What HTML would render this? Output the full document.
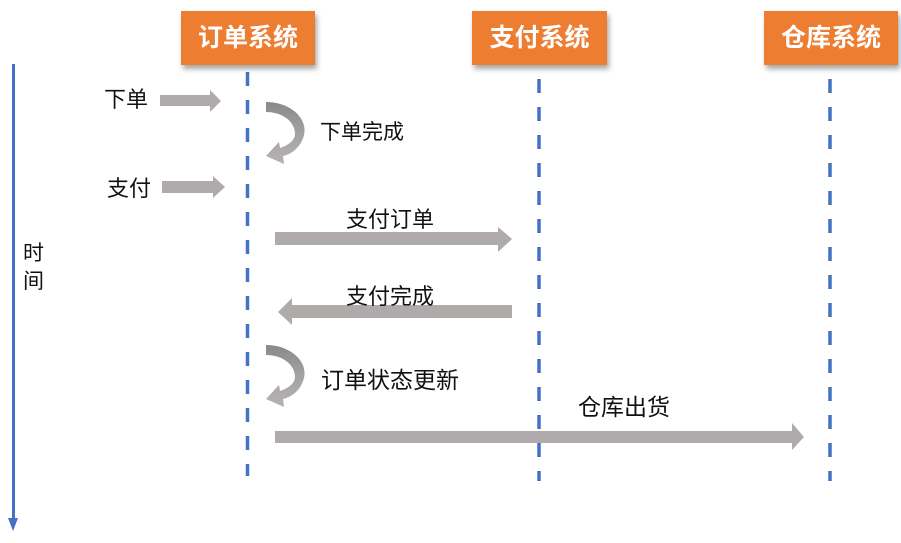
<!DOCTYPE html>
<html><head><meta charset="utf-8">
<style>
html,body{margin:0;padding:0;background:#fff;}
#c{position:relative;width:901px;height:543px;overflow:hidden;font-family:"Liberation Sans","Noto Sans CJK SC",sans-serif;color:#111;}
.box{position:absolute;top:11px;height:54px;background:#ED7D31;box-shadow:2px 4px 5px rgba(0,0,0,0.35);color:#fff;font-weight:bold;font-size:25px;line-height:54px;text-align:center;letter-spacing:0px;}
.t{position:absolute;white-space:nowrap;line-height:1;}
svg{position:absolute;left:0;top:0;}
</style></head><body>
<div id="c">
<svg width="901" height="543" viewBox="0 0 901 543">
  <defs>
    <linearGradient id="g" x1="0" y1="0" x2="0" y2="1">
      <stop offset="0" stop-color="#8a8888"/>
      <stop offset="0.5" stop-color="#a4a2a1"/>
      <stop offset="1" stop-color="#b6b3b2"/>
    </linearGradient>
  </defs>
  <!-- time axis -->
  <rect x="12" y="64" width="3" height="456" fill="#4472C4"/>
  <polygon points="8,518 18,518 13,531" fill="#4472C4"/>
  <!-- lifelines -->
  <line x1="247.5" y1="72" x2="247.5" y2="476" stroke="#4472C4" stroke-width="3.5" stroke-dasharray="14 14"/>
  <line x1="539" y1="79" x2="539" y2="481" stroke="#4472C4" stroke-width="3.5" stroke-dasharray="14 14"/>
  <line x1="830" y1="79" x2="830" y2="481" stroke="#4472C4" stroke-width="3.5" stroke-dasharray="14 14"/>
  <!-- straight arrows -->
  <g fill="#aeabaa">
    <polygon points="160,95 210,95 210,90 221,101 210,112 210,106 160,106"/>
    <polygon points="162,181 213,181 213,176 225,187 213,198 213,193 162,193"/>
    <polygon points="275,232 498,232 498,227 512,239 498,252 498,245 275,245"/>
    <polygon points="512,305 292,305 292,298 278,312 292,325 292,318 512,318"/>
    <polygon points="275,431 792,431 792,423 804,437 792,450 792,443 275,443"/>
  </g>
  <!-- curved arrows -->
  <path d="M266,102 C290,102 308,118 304,135 C301,147 292,154 283,156 L284,164 L266,156 L279,142 L280,148 C289,145 295,140 295,134 C295,122 283,112 266,112 Z" fill="url(#g)"/>
  <path transform="translate(0,243)" d="M266,102 C290,102 308,118 304,135 C301,147 292,154 283,156 L284,164 L266,156 L279,142 L280,148 C289,145 295,140 295,134 C295,122 283,112 266,112 Z" fill="url(#g)"/>
</svg>

<div class="box" style="left:181px;width:134px;">订单系统</div>
<div class="box" style="left:472px;width:135px;">支付系统</div>
<div class="box" style="left:764px;width:134px;">仓库系统</div>

<div class="t" style="left:104px;top:89px;font-size:22px;">下单</div>
<div class="t" style="left:320px;top:122px;font-size:21px;">下单完成</div>
<div class="t" style="left:107px;top:178px;font-size:22px;">支付</div>
<div class="t" style="left:346px;top:209px;font-size:22px;">支付订单</div>
<div class="t" style="left:346px;top:286px;font-size:22px;">支付完成</div>
<div class="t" style="left:321px;top:369px;font-size:23px;">订单状态更新</div>
<div class="t" style="left:578px;top:396px;font-size:23px;">仓库出货</div>
<div class="t" style="left:23px;top:240px;font-size:21px;line-height:28px;">时<br>间</div>
</div>
</body></html>
